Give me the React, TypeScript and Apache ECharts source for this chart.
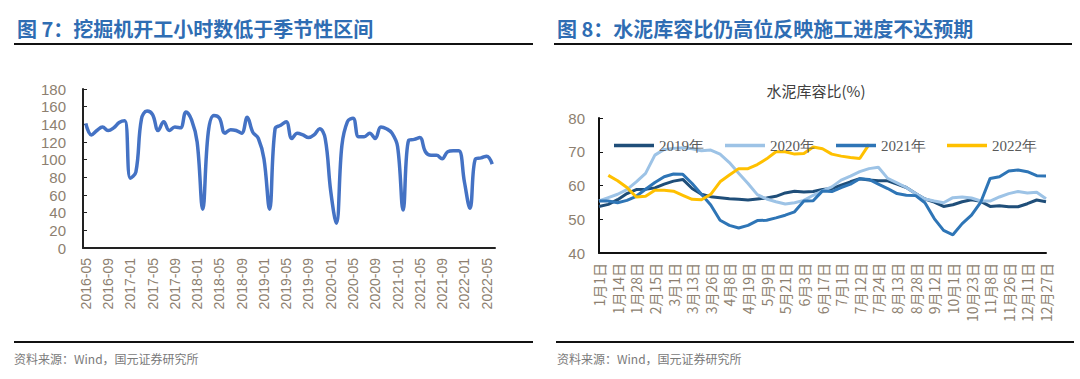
import React, { useEffect, useRef } from "react";
import * as echarts from "echarts";

const leftMonths = [
  "2016-05","2016-06","2016-07","2016-08","2016-09","2016-10","2016-11","2016-12",
  "2017-01","2017-02","2017-03","2017-04","2017-05","2017-06","2017-07","2017-08","2017-09","2017-10","2017-11","2017-12",
  "2018-01","2018-02","2018-03","2018-04","2018-05","2018-06","2018-07","2018-08","2018-09","2018-10","2018-11","2018-12",
  "2019-01","2019-02","2019-03","2019-04","2019-05","2019-06","2019-07","2019-08","2019-09","2019-10","2019-11","2019-12",
  "2020-01","2020-02","2020-03","2020-04","2020-05","2020-06","2020-07","2020-08","2020-09","2020-10","2020-11","2020-12",
  "2021-01","2021-02","2021-03","2021-04","2021-05","2021-06","2021-07","2021-08","2021-09","2021-10","2021-11","2021-12",
  "2022-01","2022-02","2022-03","2022-04","2022-05","2022-06",
];

const excavatorHours = [
  141, 128, 133, 137, 133, 136, 142, 144,
  79, 86, 146, 155, 151, 133, 143, 133, 137, 136, 154, 145,
  120, 44, 131, 150, 147, 130, 134, 133, 130, 148, 131, 124,
  101, 44, 135, 139, 143, 124, 130, 128, 125, 128, 135, 124,
  64, 28, 116, 143, 147, 126, 126, 130, 124, 137, 135, 130,
  115, 43, 122, 123, 125, 109, 105, 105, 101, 109, 110, 110,
  75, 45, 101, 102, 104, 95,
];

const cementDates = [
  "1月1日","1月7日","1月14日","1月21日","1月28日","2月7日","2月15日","2月22日",
  "3月1日","3月6日","3月13日","3月19日","3月26日","4月1日","4月8日","4月13日",
  "4月19日","4月29日","5月9日","5月14日","5月21日","5月27日","6月3日","6月10日",
  "6月17日","6月24日","7月1日","7月6日","7月12日","7月18日","7月24日","8月3日",
  "8月13日","8月21日","8月28日","9月4日","9月12日","9月21日","10月1日","10月12日",
  "10月23日","10月31日","11月8日","11月17日","11月26日","12月3日","12月11日","12月19日",
  "12月27日",
];

const cement2019 = [
  53.8, 54.4, 55.8, 57.6, 58.8, 58.9, 59.3, 60.4, 61.3, 61.8, 59.1, 57.4, 56.7, 56.4, 56.1, 55.9,
  55.7, 56.0, 56.3, 56.8, 57.8, 58.3, 58.1, 58.2, 58.8, 59.1, 60.1, 61.1, 62.0, 61.6, 61.4, 61.4,
  60.4, 59.4, 57.6, 56.0, 55.1, 53.8, 54.3, 55.2, 55.8, 55.3, 53.8, 54.0, 53.7, 53.7, 54.6, 55.7,
  55.2,
];

const cement2020 = [
  55.4, 56.4, 57.4, 58.8, 61.1, 63.6, 69.0, 70.7, 71.0, 71.2, 70.9, 70.3, 70.5, 69.3, 66.8, 63.6,
  60.6, 57.3, 56.0, 55.2, 54.5, 54.9, 55.6, 57.1, 58.4, 59.6, 61.6, 62.8, 64.1, 65.0, 65.4, 62.1,
  60.8, 59.4, 57.6, 56.0, 55.4, 54.9, 56.4, 56.6, 56.3, 55.4, 55.4, 56.6, 57.6, 58.2, 57.8, 58.0,
  56.1,
];

const cement2021 = [
  55.4, 55.4, 54.9, 55.6, 56.8, 58.9, 60.9, 62.6, 63.4, 63.3, 60.6, 57.4, 54.2, 49.7, 48.2, 47.4,
  48.2, 49.6, 49.7, 50.4, 51.2, 52.2, 55.4, 55.5, 58.4, 58.2, 59.4, 60.4, 62.0, 61.8, 60.4, 59.1,
  57.6, 57.1, 57.0, 54.9, 50.2, 46.7, 45.4, 48.7, 51.2, 55.1, 62.1, 62.6, 64.3, 64.6, 64.1, 62.9,
  62.8,
];

const cement2022 = [
  null, 63.0, 61.4, 59.4, 56.6, 56.8, 58.6, 58.6, 58.3, 57.1, 55.9, 55.8, 57.4, 61.1, 63.1, 65.0,
  65.0, 66.2, 67.9, 70.0, 70.0, 69.3, 69.5, 71.4, 70.9, 69.3, 68.7, 68.3, 68.0, 72.2,
];

const leftTitle = "图 7：挖掘机开工小时数低于季节性区间";
const rightTitle = "图 8：水泥库容比仍高位反映施工进度不达预期";
const rightChartTitle = "水泥库容比(%)";
const sourceText = "资料来源：Wind，国元证券研究所";
const seriesNames = ["2019年", "2020年", "2021年", "2022年"];

const AXIS_LABEL_COLOR = "#8d7f70";

export default function App() {
  const ref = useRef<HTMLDivElement>(null);

  useEffect(() => {
    if (!ref.current) return;
    const chart = echarts.init(ref.current, undefined, { renderer: "svg" });

    const rule = (x1: number, x2: number, y: number) => ({
      type: "line",
      shape: { x1, y1: y, x2, y2: y },
      style: { stroke: "#111", lineWidth: 2 },
      silent: true,
    });

    const option: any = {
      animation: false,
      backgroundColor: "#ffffff",
      graphic: [
        {
          type: "text",
          x: 17,
          y: 28,
          style: {
            text: leftTitle,
            fill: "#2f6db3",
            font: 'bold 20px "Noto Sans CJK SC"',
            verticalAlign: "middle",
          },
        },
        {
          type: "text",
          x: 557,
          y: 28,
          style: {
            text: rightTitle,
            fill: "#2f6db3",
            font: 'bold 20px "Noto Sans CJK SC"',
            verticalAlign: "middle",
          },
        },
        rule(14, 533, 44),
        rule(554, 1072, 44),
        rule(14, 533, 342),
        rule(556, 1074, 342),
        {
          type: "text",
          x: 14,
          y: 358,
          style: {
            text: sourceText,
            fill: "#7a7a7a",
            font: '12px "Noto Sans CJK SC"',
            verticalAlign: "middle",
          },
        },
        {
          type: "text",
          x: 557,
          y: 358,
          style: {
            text: sourceText,
            fill: "#7a7a7a",
            font: '12px "Noto Sans CJK SC"',
            verticalAlign: "middle",
          },
        },
        {
          type: "text",
          x: 816,
          y: 90,
          style: {
            text: rightChartTitle,
            fill: "#404040",
            font: '15px "Noto Sans CJK SC"',
            align: "center",
            verticalAlign: "middle",
          },
        },
      ],
      legend: {
        data: seriesNames,
        left: 609,
        top: 133,
        icon: "rect",
        itemWidth: 40,
        itemHeight: 3.5,
        itemGap: 21,
        textStyle: {
          color: "#595959",
          fontFamily: '"Liberation Serif", serif',
          fontSize: 15,
        },
      },
      grid: [
        { left: 83, top: 89, width: 412, height: 159 },
        { left: 599, top: 118, width: 447, height: 135 },
      ],
      xAxis: [
        {
          type: "category",
          gridIndex: 0,
          data: leftMonths,
          boundaryGap: true,
          axisLine: { lineStyle: { color: "#222", width: 2 } },
          axisTick: { inside: true, length: 4, interval: 3, lineStyle: { color: "#222", width: 1 } },
          axisLabel: {
            interval: 3,
            rotate: 90,
            margin: 10,
            color: AXIS_LABEL_COLOR,
            fontSize: 14,
            fontFamily: '"Liberation Sans", sans-serif',
          },
        },
        {
          type: "category",
          gridIndex: 1,
          data: cementDates,
          boundaryGap: false,
          axisLine: { lineStyle: { color: "#111", width: 2 } },
          axisTick: { show: false },
          axisLabel: {
            interval: 1,
            rotate: 90,
            margin: 10,
            color: AXIS_LABEL_COLOR,
            fontSize: 14,
            fontFamily: '"Noto Sans CJK SC", sans-serif',
          },
        },
      ],
      yAxis: [
        {
          type: "value",
          gridIndex: 0,
          min: 0,
          max: 180,
          interval: 20,
          splitLine: { show: false },
          axisLine: { show: true, lineStyle: { color: "#222", width: 2 } },
          axisTick: { show: true, inside: true, length: 4, lineStyle: { color: "#222", width: 1 } },
          axisLabel: {
            margin: 17,
            color: AXIS_LABEL_COLOR,
            fontSize: 15,
            fontFamily: '"Liberation Sans", sans-serif',
          },
        },
        {
          type: "value",
          gridIndex: 1,
          min: 40,
          max: 80,
          interval: 10,
          splitLine: { show: false },
          axisLine: { show: true, lineStyle: { color: "#111", width: 2 } },
          axisTick: { show: true, inside: true, length: 4, lineStyle: { color: "#111", width: 1 } },
          axisLabel: {
            margin: 14,
            color: AXIS_LABEL_COLOR,
            fontSize: 15,
            fontFamily: '"Liberation Sans", sans-serif',
          },
        },
      ],
      series: [
        {
          name: "挖掘机开工小时数",
          type: "line",
          xAxisIndex: 0,
          yAxisIndex: 0,
          data: excavatorHours,
          smooth: 0.4,
          showSymbol: false,
          symbol: "none",
          lineStyle: { color: "#4472c4", width: 3.5 },
        },
        {
          name: seriesNames[0],
          type: "line",
          xAxisIndex: 1,
          yAxisIndex: 1,
          data: cement2019,
          symbol: "none",
          color: "#1f4e79",
          lineStyle: { color: "#1f4e79", width: 3 },
        },
        {
          name: seriesNames[1],
          type: "line",
          xAxisIndex: 1,
          yAxisIndex: 1,
          data: cement2020,
          symbol: "none",
          color: "#9dc3e6",
          lineStyle: { color: "#9dc3e6", width: 3 },
        },
        {
          name: seriesNames[2],
          type: "line",
          xAxisIndex: 1,
          yAxisIndex: 1,
          data: cement2021,
          symbol: "none",
          color: "#2e75b6",
          lineStyle: { color: "#2e75b6", width: 3 },
        },
        {
          name: seriesNames[3],
          type: "line",
          xAxisIndex: 1,
          yAxisIndex: 1,
          data: cement2022,
          symbol: "none",
          color: "#ffc000",
          lineStyle: { color: "#ffc000", width: 3 },
        },
      ],
    };

    chart.setOption(option);
    return () => {
      chart.dispose();
    };
  }, []);

  return (
    <div
      ref={ref}
      style={{ position: "absolute", left: 0, top: 0, width: 1080, height: 379, background: "#fff" }}
    />
  );
}
